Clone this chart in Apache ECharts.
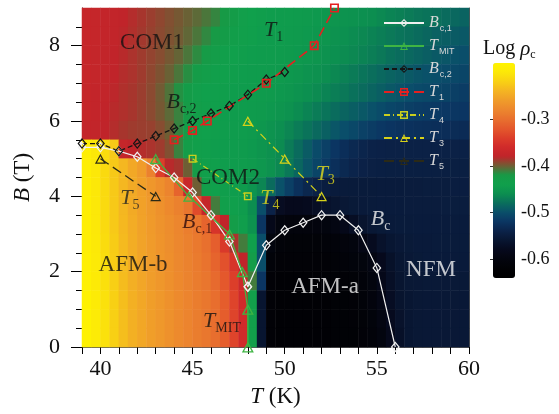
<!DOCTYPE html>
<html><head><meta charset="utf-8">
<script src="https://cdn.jsdelivr.net/npm/echarts@6/dist/echarts.min.js"></script>
<style>html,body{margin:0;padding:0;background:#fff}#c{width:559px;height:414px}</style>
</head><body><div id="c"></div>
<script>
// ---------- DATA ----------
const tCells = ['39.25','39.75','40.25','40.75','41.25','41.75','42.25','42.75','43.25','43.75','44.25','44.75','45.25','45.75','46.25','46.75','47.25','47.75','48.25','48.75','49.25','49.75','50.25','50.75','51.25','51.75','52.25','52.75','53.25','53.75','54.25','54.75','55.25','55.75','56.25','56.75','57.25','57.75','58.25','58.75','59.25','59.75'];
const bCells = ['0.25','0.75','1.25','1.75','2.25','2.75','3.25','3.75','4.25','4.75','5.25','5.75','6.25','6.75','7.25','7.75','8.25','8.75'];
// log rho_c, rows from top (B = 8.75 T) to bottom (B = 0.25 T)
const logRho = [
[-0.372,-0.374,-0.376,-0.378,-0.380,-0.383,-0.386,-0.389,-0.392,-0.395,-0.398,-0.401,-0.404,-0.408,-0.413,-0.420,-0.428,-0.435,-0.440,-0.442,-0.443,-0.444,-0.445,-0.446,-0.447,-0.448,-0.450,-0.452,-0.454,-0.456,-0.458,-0.460,-0.463,-0.466,-0.469,-0.472,-0.475,-0.477,-0.479,-0.482,-0.484,-0.487],
[-0.372,-0.374,-0.376,-0.378,-0.381,-0.384,-0.387,-0.390,-0.393,-0.396,-0.399,-0.403,-0.408,-0.414,-0.421,-0.428,-0.434,-0.438,-0.441,-0.443,-0.444,-0.445,-0.446,-0.447,-0.448,-0.450,-0.452,-0.455,-0.458,-0.461,-0.464,-0.467,-0.470,-0.473,-0.476,-0.479,-0.482,-0.485,-0.488,-0.490,-0.492,-0.494],
[-0.373,-0.375,-0.377,-0.379,-0.382,-0.385,-0.388,-0.391,-0.394,-0.398,-0.402,-0.408,-0.415,-0.422,-0.430,-0.436,-0.440,-0.442,-0.443,-0.444,-0.445,-0.446,-0.447,-0.448,-0.450,-0.452,-0.455,-0.458,-0.461,-0.464,-0.467,-0.470,-0.474,-0.478,-0.481,-0.484,-0.487,-0.490,-0.493,-0.495,-0.498,-0.500],
[-0.373,-0.375,-0.377,-0.380,-0.383,-0.385,-0.388,-0.392,-0.396,-0.401,-0.408,-0.416,-0.425,-0.432,-0.437,-0.440,-0.442,-0.443,-0.444,-0.445,-0.446,-0.447,-0.449,-0.451,-0.454,-0.457,-0.460,-0.464,-0.468,-0.472,-0.476,-0.480,-0.484,-0.487,-0.490,-0.493,-0.496,-0.498,-0.500,-0.502,-0.505,-0.507],
[-0.374,-0.376,-0.378,-0.381,-0.384,-0.386,-0.389,-0.393,-0.399,-0.407,-0.417,-0.428,-0.435,-0.439,-0.441,-0.442,-0.443,-0.444,-0.445,-0.446,-0.447,-0.449,-0.451,-0.454,-0.458,-0.462,-0.466,-0.470,-0.474,-0.478,-0.482,-0.486,-0.490,-0.494,-0.497,-0.500,-0.503,-0.505,-0.507,-0.509,-0.512,-0.514],
[-0.374,-0.376,-0.379,-0.382,-0.384,-0.386,-0.389,-0.393,-0.398,-0.404,-0.412,-0.422,-0.432,-0.438,-0.441,-0.443,-0.444,-0.445,-0.446,-0.447,-0.449,-0.452,-0.456,-0.461,-0.466,-0.471,-0.476,-0.481,-0.486,-0.490,-0.494,-0.498,-0.502,-0.506,-0.509,-0.512,-0.514,-0.516,-0.517,-0.518,-0.519,-0.520],
[-0.376,-0.378,-0.380,-0.383,-0.386,-0.388,-0.389,-0.390,-0.394,-0.400,-0.413,-0.427,-0.436,-0.440,-0.442,-0.443,-0.444,-0.445,-0.447,-0.450,-0.454,-0.459,-0.465,-0.471,-0.477,-0.483,-0.489,-0.495,-0.500,-0.505,-0.510,-0.514,-0.518,-0.521,-0.523,-0.524,-0.525,-0.526,-0.527,-0.528,-0.529,-0.530],
[-0.190,-0.200,-0.210,-0.225,-0.375,-0.380,-0.383,-0.385,-0.388,-0.395,-0.412,-0.430,-0.438,-0.441,-0.443,-0.444,-0.445,-0.446,-0.448,-0.452,-0.457,-0.462,-0.472,-0.482,-0.492,-0.502,-0.511,-0.520,-0.527,-0.533,-0.537,-0.540,-0.541,-0.542,-0.542,-0.542,-0.542,-0.542,-0.542,-0.542,-0.542,-0.542],
[-0.190,-0.200,-0.212,-0.225,-0.238,-0.250,-0.260,-0.285,-0.340,-0.382,-0.386,-0.400,-0.425,-0.437,-0.441,-0.443,-0.444,-0.445,-0.447,-0.450,-0.456,-0.464,-0.474,-0.485,-0.496,-0.507,-0.517,-0.526,-0.533,-0.538,-0.541,-0.543,-0.544,-0.545,-0.545,-0.545,-0.545,-0.545,-0.545,-0.545,-0.545,-0.545],
[-0.190,-0.200,-0.212,-0.225,-0.238,-0.248,-0.257,-0.265,-0.272,-0.282,-0.310,-0.370,-0.400,-0.432,-0.440,-0.442,-0.443,-0.446,-0.453,-0.465,-0.482,-0.498,-0.512,-0.525,-0.535,-0.542,-0.547,-0.550,-0.551,-0.551,-0.551,-0.551,-0.550,-0.550,-0.550,-0.549,-0.549,-0.548,-0.548,-0.548,-0.547,-0.547],
[-0.190,-0.200,-0.212,-0.225,-0.238,-0.248,-0.256,-0.263,-0.270,-0.277,-0.285,-0.295,-0.330,-0.375,-0.410,-0.437,-0.441,-0.445,-0.460,-0.500,-0.540,-0.575,-0.580,-0.580,-0.578,-0.572,-0.565,-0.560,-0.556,-0.553,-0.552,-0.551,-0.550,-0.550,-0.550,-0.549,-0.549,-0.549,-0.549,-0.548,-0.548,-0.548],
[-0.190,-0.200,-0.212,-0.225,-0.237,-0.247,-0.255,-0.262,-0.268,-0.274,-0.280,-0.287,-0.295,-0.310,-0.350,-0.380,-0.430,-0.442,-0.455,-0.520,-0.585,-0.600,-0.605,-0.605,-0.605,-0.603,-0.600,-0.595,-0.585,-0.572,-0.562,-0.556,-0.553,-0.552,-0.551,-0.551,-0.550,-0.550,-0.550,-0.550,-0.550,-0.550],
[-0.190,-0.198,-0.210,-0.223,-0.236,-0.246,-0.254,-0.261,-0.267,-0.273,-0.279,-0.285,-0.292,-0.300,-0.315,-0.345,-0.385,-0.410,-0.440,-0.500,-0.600,-0.610,-0.612,-0.612,-0.612,-0.612,-0.610,-0.608,-0.605,-0.600,-0.590,-0.577,-0.565,-0.558,-0.555,-0.553,-0.552,-0.552,-0.551,-0.551,-0.551,-0.551],
[-0.188,-0.197,-0.208,-0.222,-0.235,-0.245,-0.253,-0.260,-0.266,-0.272,-0.278,-0.284,-0.290,-0.297,-0.310,-0.325,-0.350,-0.380,-0.430,-0.500,-0.610,-0.615,-0.615,-0.615,-0.615,-0.615,-0.614,-0.612,-0.610,-0.607,-0.602,-0.594,-0.580,-0.567,-0.558,-0.555,-0.553,-0.552,-0.552,-0.552,-0.552,-0.552],
[-0.187,-0.196,-0.207,-0.221,-0.234,-0.244,-0.252,-0.259,-0.265,-0.271,-0.277,-0.283,-0.289,-0.295,-0.305,-0.320,-0.340,-0.365,-0.410,-0.520,-0.615,-0.618,-0.618,-0.618,-0.618,-0.618,-0.617,-0.616,-0.614,-0.612,-0.608,-0.600,-0.585,-0.570,-0.560,-0.556,-0.555,-0.554,-0.554,-0.554,-0.554,-0.554],
[-0.185,-0.195,-0.206,-0.220,-0.233,-0.243,-0.251,-0.258,-0.264,-0.270,-0.276,-0.282,-0.288,-0.294,-0.302,-0.316,-0.335,-0.360,-0.435,-0.560,-0.615,-0.618,-0.618,-0.618,-0.618,-0.618,-0.618,-0.617,-0.616,-0.614,-0.610,-0.603,-0.590,-0.573,-0.562,-0.558,-0.556,-0.555,-0.555,-0.555,-0.555,-0.555],
[-0.185,-0.195,-0.206,-0.220,-0.233,-0.243,-0.251,-0.258,-0.264,-0.270,-0.276,-0.282,-0.288,-0.294,-0.302,-0.316,-0.335,-0.360,-0.435,-0.560,-0.615,-0.618,-0.618,-0.618,-0.618,-0.618,-0.618,-0.617,-0.617,-0.615,-0.612,-0.606,-0.595,-0.578,-0.565,-0.558,-0.556,-0.555,-0.555,-0.555,-0.555,-0.555],
[-0.185,-0.195,-0.206,-0.220,-0.233,-0.243,-0.251,-0.258,-0.264,-0.270,-0.276,-0.282,-0.288,-0.294,-0.302,-0.316,-0.335,-0.360,-0.435,-0.560,-0.615,-0.618,-0.618,-0.618,-0.618,-0.618,-0.618,-0.617,-0.617,-0.616,-0.613,-0.608,-0.598,-0.582,-0.568,-0.558,-0.556,-0.555,-0.555,-0.555,-0.555,-0.555]
];
// phase-boundary lines: [T (K), B (T)]
const bc1  = [[39,5.3],[40,5.3],[41,5.2],[42,5.05],[43,4.75],[44,4.5],[45,4.1],[46,3.5],[47,2.8],[48,1.6]];
const bcA  = [[48,1.6],[49,2.7],[50,3.1],[51,3.3],[52,3.5],[53,3.5],[54,3.1],[55,2.1],[56,0]];
const tMIT = [[43,5.0],[44.8,4.0],[47,3.0],[47.7,2.0],[48,1.0],[48,0]];
const bc2  = [[39,5.4],[40,5.4],[41,5.2],[42,5.4],[43,5.6],[44,5.8],[45,6.0],[46,6.2],[47,6.4],[48,6.7],[49,7.1],[50,7.3]];
const t1   = [[44,5.5],[45,5.75],[45.8,6.0],[49,7.0],[51.6,8.0],[52.7,9.0]];
const t4   = [[45,5.0],[48,4.0]];
const t3   = [[48,6.0],[50,5.0],[52,4.0]];
const t5   = [[40,5.0],[43,4.0]];
// axis ticks
const xTickLabels = [40,45,50,55,60];
const yTickLabels = [0,2,4,6,8];
const cbTickLabels = [-0.6,-0.5,-0.4,-0.3];

// ---------- STYLE ----------
const SERIF = "'Liberation Serif','Times New Roman',serif";
const SANS = "'Liberation Sans',Arial,sans-serif";
const cmap = ['#000000','#010104','#03050e','#06091c','#081530','#0b2248','#0b3562','#0a4e6a','#0a6e5c','#0c8e50','#10a04c','#179a46','#6e5e34','#c0242a','#d02a2a','#dc3e2a','#e4582c','#e8702e','#ec862e','#f09c2a','#f4b422','#f8d014','#fce808','#fff400'];
// hollow marker outlines (outer contour clockwise, inner counter-clockwise)
const DIAMOND  = 'path://M0,-10L7,0L0,10L-7,0Z M0,-6.5L-4.55,0L0,6.5L4.55,0Z';
const TRIANGLE = 'path://M0,-10L10,8L-10,8Z M0,-5.47L-6.26,5.8L6.26,5.8Z';
const SQUARE   = 'path://M0,0L10,0L10,10L0,10Z M1.8,1.8L1.8,8.2L8.2,8.2L8.2,1.8Z';

const heatData = [];
logRho.forEach((row, r) => {
  const j = bCells.length - 1 - r;
  row.forEach((v, i) => heatData.push([i, j, v]));
});

const richMain = {
  i: {fontFamily: SERIF, fontStyle: 'italic', fontSize: 22, lineHeight: 24},
  s: {fontFamily: SERIF, fontSize: 14, lineHeight: 14, padding: [14,0,0,0]},
  n: {fontFamily: SERIF, fontSize: 23}
};
const LG = '#d8d8d8';
const richLegend = {
  i: {fontFamily: SERIF, fontStyle: 'italic', fontSize: 16, lineHeight: 18, color: LG},
  s: {fontFamily: SANS, fontSize: 9, lineHeight: 10, padding: [11,0,0,1], color: LG},
  m: {fontFamily: SANS, fontSize: 9, lineHeight: 10, padding: [11,0,0,1], color: LG}
};
const legendText = {
  'Bc1': '{i|B}{s|c,1}', 'TMIT': '{i|T}{m|MIT}', 'Bc2': '{i|B}{s|c,2}',
  'T1': '{i|T}{s|1}', 'T4': '{i|T}{s|4}', 'T3': '{i|T}{s|3}', 'T5': '{i|T}{s|5}'
};

function line(name, pts, color, symbol, size, dash, width) {
  return {
    name: name, type: 'line', xAxisIndex: 1, yAxisIndex: 1, data: pts,
    symbol: symbol, symbolSize: size, z: 5,
    lineStyle: {color: color, width: width || 1.3, type: dash || 'solid'},
    itemStyle: {color: color, borderWidth: 0},
    emphasis: {disabled: true}, silent: true
  };
}

// text annotations placed in data coordinates
const notes = [
  {t: '{n|COM1}', at: [42.8, 8.07], c: '#111'},
  {t: '{i|T}{s|1}', at: [49.4, 8.4], c: '#111'},
  {t: '{i|B}{s|c,2}', at: [44.4, 6.5], c: '#111'},
  {t: '{n|COM2}', at: [46.92, 4.49], c: '#111'},
  {t: '{i|T}{s|4}', at: [49.2, 3.95], c: '#e4dc1c'},
  {t: '{i|T}{s|3}', at: [52.2, 4.6], c: '#e4dc1c'},
  {t: '{i|T}{s|5}', at: [41.6, 3.95], c: '#222'},
  {t: '{i|B}{s|c,1}', at: [45.25, 3.32], c: '#2a0a0a'},
  {t: '{n|AFM-b}', at: [41.77, 2.18], c: '#111'},
  {t: '{i|T}{s|MIT}', at: [46.6, 0.68], c: '#111'},
  {t: '{n|AFM-a}', at: [52.19, 1.59], c: '#f2f2f2'},
  {t: '{i|B}{s|c}', at: [55.2, 3.38], c: '#f2f2f2'},
  {t: '{n|NFM}', at: [57.94, 2.04], c: '#f2f2f2'}
];

const hidden = {show: false};
const option = {
  animation: false,
  backgroundColor: '#fff',
  title: {
    text: '{n|Log }{i|ρ}{s|c}', left: 478, top: 33,
    textStyle: {fontWeight: 'normal', rich: {
      n: {fontFamily: SERIF, fontSize: 20, fontWeight: 'normal', color: '#111'},
      i: {fontFamily: SERIF, fontStyle: 'italic', fontWeight: 'normal', fontSize: 21, color: '#111', lineHeight: 22},
      s: {fontFamily: SERIF, fontSize: 12, fontWeight: 'normal', color: '#111', padding: [12,0,0,0], lineHeight: 12}
    }}
  },
  grid: [
    {left: 82, right: 90, top: 8, bottom: 67},
    {left: 82, right: 90, top: 8, bottom: 67},
    {left: 493, top: 63, width: 22, height: 215}
  ],
  xAxis: [
    {gridIndex: 0, type: 'category', data: tCells, show: false},
    {gridIndex: 1, type: 'value', min: 39, max: 60, position: 'bottom',
      axisLine: {show: true, lineStyle: {color: '#000', width: 1}},
      axisTick: {show: true, length: 7, customValues: [39,40,41,42,43,44,45,46,47,48,49,50,51,52,53,54,55,56,57,58,59,60], lineStyle: {color: '#000'}},
      axisLabel: {customValues: xTickLabels, fontFamily: SERIF, fontSize: 22, color: '#111', margin: 11},
      splitLine: hidden,
      name: '{i|T} (K)', nameLocation: 'middle', nameGap: 38,
      nameTextStyle: {fontFamily: SERIF, fontSize: 23, color: '#111', rich: {i: {fontFamily: SERIF, fontStyle: 'italic', fontSize: 23}}}},
    {gridIndex: 1, type: 'value', min: 39, max: 60, position: 'top',
      axisLine: {show: true, lineStyle: {color: '#555', width: 1}}, axisTick: hidden, axisLabel: hidden, splitLine: hidden},
    {gridIndex: 2, type: 'value', min: 0, max: 1, show: false}
  ],
  yAxis: [
    {gridIndex: 0, type: 'category', data: bCells, show: false},
    {gridIndex: 1, type: 'value', min: 0, max: 9, position: 'left',
      axisLine: {show: true, lineStyle: {color: '#000', width: 1}},
      axisTick: {show: true, length: 11, customValues: yTickLabels, lineStyle: {color: '#000'}},
      axisLabel: {customValues: yTickLabels, fontFamily: SERIF, fontSize: 22, color: '#111', margin: 22},
      splitLine: hidden,
      name: '{i|B} (T)', nameLocation: 'middle', nameGap: 48, nameRotate: 90,
      nameTextStyle: {fontFamily: SERIF, fontSize: 23, color: '#111', rich: {i: {fontFamily: SERIF, fontStyle: 'italic', fontSize: 23}}}},
    {gridIndex: 1, type: 'value', min: 0, max: 9, position: 'left',
      axisLine: hidden,
      axisTick: {show: true, length: 6, customValues: [0.5,1,1.5,2.5,3,3.5,4.5,5,5.5,6.5,7,7.5,8.5], lineStyle: {color: '#000'}},
      axisLabel: hidden, splitLine: hidden},
    {gridIndex: 1, type: 'value', min: 0, max: 9, position: 'right',
      axisLine: {show: true, lineStyle: {color: '#555', width: 1}}, axisTick: hidden, axisLabel: hidden, splitLine: hidden},
    {gridIndex: 2, type: 'value', min: -0.64, max: -0.18, position: 'right',
      axisLine: hidden,
      axisTick: {show: true, inside: true, length: 3, customValues: cbTickLabels, lineStyle: {color: '#333'}},
      axisLabel: {customValues: cbTickLabels, fontFamily: SERIF, fontSize: 18, color: '#111', margin: 6},
      splitLine: hidden}
  ],
  visualMap: {
    type: 'continuous', seriesIndex: 0, dimension: 2, min: -0.64, max: -0.18,
    inRange: {color: cmap}, orient: 'vertical', left: 493, top: 63,
    itemWidth: 22, itemHeight: 215, padding: 0, calculable: false,
    borderWidth: 0, hoverLink: false
  },
  legend: {
    data: ['Bc1','TMIT','Bc2','T1','T4','T3','T5'],
    orient: 'vertical', left: 383, top: 13, padding: 0, itemWidth: 40, itemHeight: 10, itemGap: 3,
    selectedMode: false, formatter: n => legendText[n],
    textStyle: {color: LG, rich: richLegend}
  },
  series: [
    {type: 'heatmap', xAxisIndex: 0, yAxisIndex: 0, data: heatData, silent: true, z: 1, progressive: 0},
    line('Bc1', bc1, '#f0f0f0', DIAMOND, [9,11], 'solid', 1.2),
    line('Bc', bcA, '#f0f0f0', DIAMOND, [9,11], 'solid', 1.2),
    line('TMIT', tMIT, '#3fb543', TRIANGLE, [12,11], 'solid', 1.3),
    line('Bc2', bc2, '#151515', DIAMOND, [9,11], [5,3], 1.3),
    line('T1', t1, '#e52020', SQUARE, 9, [10,5], 1.6),
    line('T4', t4, '#c9cf1e', SQUARE, 8, [6,3,1,3], 1.2),
    line('T3', t3, '#d6d21a', TRIANGLE, [11,10], [8,4,2,4], 1.2),
    line('T5', t5, '#2b2a16', TRIANGLE, [11,10], [10,5], 1.3),
    {type: 'scatter', xAxisIndex: 1, yAxisIndex: 1, silent: true, z: 6,
      symbolSize: 1, itemStyle: {color: 'rgba(0,0,0,0)'},
      data: notes.map(n => ({value: n.at,
        label: {show: true, position: 'inside', formatter: n.t, color: n.c, rich: richMain}}))}
  ]
};
echarts.init(document.getElementById('c'), null, {renderer: 'canvas'}).setOption(option);
</script></body></html>
